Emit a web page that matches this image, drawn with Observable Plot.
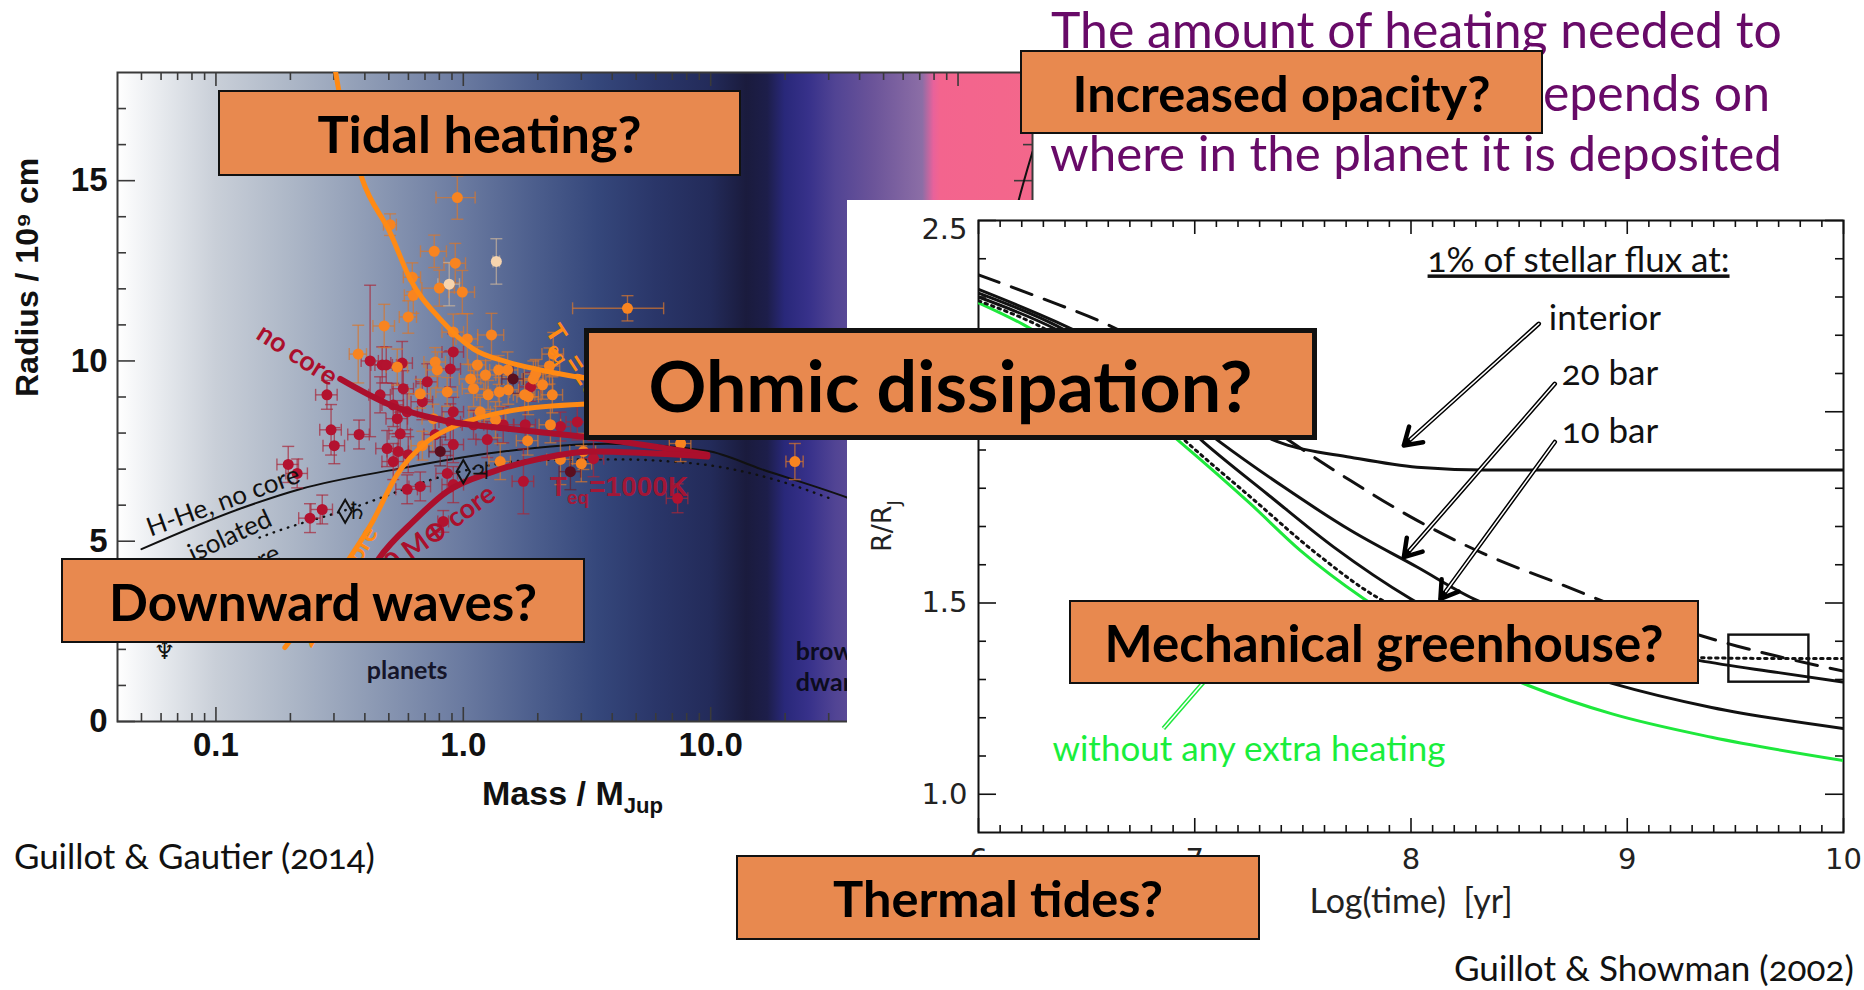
<!DOCTYPE html>
<html>
<head>
<meta charset="utf-8">
<title>Radius inflation of hot Jupiters</title>
<script src="https://cdn.jsdelivr.net/npm/d3@7"></script>
<script src="https://cdn.jsdelivr.net/npm/@observablehq/plot@0.6"></script>
<style>
  html, body { margin: 0; padding: 0; background: #fff; }
  #slide { position: relative; width: 1864px; height: 990px; overflow: hidden; background: #fff; }
  .panel { position: absolute; }
  .panel svg { display: block; max-width: none; }
  .box { position: absolute; box-sizing: border-box; background: #e8894f; border: 2.5px solid #111;
         display: flex; align-items: center; justify-content: center; }
  .box span { font-family: Lato, "Open Sans", sans-serif; font-weight: 700; color: #000; white-space: nowrap; }
</style>
</head>
<body>
<div id="slide">
  <div id="massRadius" class="panel" style="left:0;top:0;width:1060px;height:830px"></div>
  <div id="evolution" class="panel" style="left:847px;top:200px;width:1017px;height:790px"></div>
</div>
<script>
const SVGNS = "http://www.w3.org/2000/svg";

// ---------------------------------------------------------------
// Mass–radius diagram of transiting giant planets
// ---------------------------------------------------------------
const massDomain = [0.04, 200];
const radiusDomain = [0, 18];
const massMajorTicks = [0.1, 1, 10, 100];
const massTickLabels = ["0.1", "1.0", "10.0", "100.0"];
const massMinorTicks = [0.05, 0.06, 0.07, 0.08, 0.09, 0.2, 0.3, 0.4, 0.5, 0.6, 0.7, 0.8, 0.9,
  2, 3, 4, 5, 6, 7, 8, 9, 20, 30, 40, 50, 60, 70, 80, 90];
const radiusMajorTicks = [0, 5, 10, 15];
const radiusMinorTicks = [1, 2, 3, 4, 6, 7, 8, 9, 11, 12, 13, 14, 16, 17];

// background shading along the mass axis (planets -> brown dwarfs -> stars)
const shadeMass = [0.04, 0.06, 0.1, 0.2, 0.4, 1, 2, 3.5, 6, 10, 14, 17, 20, 25, 32, 45, 72, 80, 85, 200];
const shadeColor = ["#ffffff", "#e7eaee", "#c9cfd8", "#adb7c7", "#909db6", "#6a7aa0", "#4b5d8c",
  "#35477b", "#2a3669", "#232b5a", "#1a1b3d", "#1d1e4a", "#29287a", "#37318a", "#514494",
  "#6a5399", "#8c6ea6", "#e8629b", "#f3648e", "#f3678b"];

// planets: [mass (M_Jup), radius (1e9 cm), relative mass error, radius error]
const hotPlanets = [
  [0.946, 14.53, 0.18, 0.6], [0.506, 13.78, 0.06, 0.3], [0.763, 13.04, 0.12, 0.45],
  [0.928, 12.71, 0.10, 0.55], [0.991, 11.91, 0.12, 0.6], [0.80, 12.02, 0.15, 0.5],
  [0.622, 12.32, 0.08, 0.4], [0.628, 11.82, 0.08, 0.5], [0.599, 11.22, 0.08, 0.45],
  [0.479, 10.97, 0.10, 0.6], [4.61, 11.46, 0.40, 0.35], [0.911, 10.80, 0.10, 0.5],
  [1.038, 10.61, 0.10, 0.7], [1.30, 10.72, 0.12, 0.6], [0.376, 10.19, 0.08, 0.8],
  [2.31, 10.19, 0.10, 0.6], [2.23, 9.86, 0.10, 0.5], [0.77, 9.97, 0.10, 0.4],
  [1.14, 9.89, 0.08, 0.5], [1.39, 9.75, 0.08, 0.4], [1.51, 9.75, 0.10, 0.5],
  [1.92, 9.50, 0.10, 0.5], [2.09, 9.34, 0.10, 0.4], [2.29, 9.06, 0.10, 0.5],
  [0.541, 9.83, 0.10, 0.5], [0.785, 9.75, 0.10, 0.5], [0.861, 9.14, 0.10, 0.4],
  [1.10, 9.23, 0.10, 0.5], [1.26, 9.06, 0.10, 0.4], [1.52, 9.20, 0.10, 0.4],
  [1.83, 9.01, 0.10, 0.5], [0.67, 9.09, 0.10, 0.4], [1.17, 8.59, 0.10, 0.4],
  [1.35, 8.37, 0.10, 0.5], [2.25, 8.23, 0.10, 0.5], [1.41, 7.21, 0.10, 0.5],
  [2.47, 7.27, 0.12, 0.7], [3.06, 7.49, 0.12, 0.5], [7.56, 7.71, 0.10, 0.5],
  [1.23, 9.61, 0.10, 0.4], [1.07, 9.50, 0.10, 0.4], [21.9, 7.21, 0.08, 0.5],
  [1.96, 9.64, 0.10, 0.4], [1.77, 9.06, 0.10, 0.4], [1.40, 9.14, 0.10, 0.4],
  [1.82, 7.79, 0.10, 0.4], [0.757, 8.40, 0.10, 0.4], [0.683, 7.65, 0.10, 0.4],
  [3.0, 7.15, 0.10, 0.5]
];
const warmPlanets = [
  [0.281, 9.06, 0.10, 0.4], [0.292, 8.09, 0.10, 0.7], [0.301, 7.65, 0.10, 0.5],
  [0.379, 7.96, 0.10, 0.4], [0.42, 10.0, 0.08, 2.1], [0.47, 9.89, 0.10, 0.5],
  [0.488, 9.89, 0.10, 0.5], [0.566, 9.94, 0.10, 0.6], [0.461, 9.06, 0.10, 0.5],
  [0.521, 8.78, 0.10, 0.6], [0.572, 9.23, 0.10, 0.5], [0.541, 8.40, 0.10, 0.5],
  [0.593, 8.59, 0.10, 0.5], [0.556, 7.98, 0.10, 0.6], [0.492, 7.57, 0.10, 0.5],
  [0.546, 7.49, 0.10, 0.5], [0.521, 7.21, 0.10, 0.5], [0.599, 7.40, 0.10, 0.5],
  [0.593, 6.44, 0.10, 0.4], [0.67, 6.52, 0.10, 0.4], [0.715, 9.42, 0.10, 0.5],
  [0.683, 8.87, 0.10, 0.5], [0.77, 7.96, 0.10, 0.5], [0.886, 8.31, 0.10, 0.5],
  [0.911, 10.25, 0.10, 0.5], [0.886, 9.78, 0.10, 0.5], [0.911, 8.59, 0.10, 0.4],
  [0.911, 7.68, 0.10, 0.5], [0.861, 6.88, 0.10, 0.5], [0.911, 6.57, 0.10, 0.5],
  [1.10, 8.23, 0.10, 0.4], [1.25, 7.82, 0.10, 0.5], [1.45, 8.23, 0.10, 0.5],
  [1.78, 8.23, 0.10, 0.5], [1.75, 6.66, 0.10, 0.9], [1.87, 9.28, 0.10, 0.4],
  [3.36, 7.29, 0.10, 0.5], [7.35, 6.19, 0.10, 0.4], [2.47, 8.18, 0.10, 0.4],
  [2.89, 8.31, 0.10, 0.5], [0.196, 7.13, 0.10, 0.5], [0.213, 6.88, 0.10, 0.4],
  [0.240, 5.64, 0.10, 0.4], [0.269, 5.88, 0.10, 0.4], [0.83, 5.55, 0.05, 0.3]
];
const coolPlanets = [[1.59, 9.50, 0.10, 0.4], [0.807, 7.49, 0.10, 0.4], [2.71, 6.93, 0.10, 0.5]];
const palePlanets = [[1.36, 12.76, 0.03, 0.63], [0.877, 12.13, 0.10, 0.6]];

// model curves
const hotNoCoreMass = [0.30, 0.309, 0.39, 0.506, 0.61, 0.807, 1.10, 1.51, 2.05, 3.03, 5, 8];
const hotNoCoreRadius = [18.3, 17.76, 15.05, 13.56, 12.27, 11.16, 10.33, 9.97, 9.75, 9.53, 9.3, 9.1];
const hotCoreMass = [0.19, 0.23, 0.30, 0.36, 0.43, 0.54, 0.71, 0.97, 1.5, 3.0, 5, 8];
const hotCoreRadius = [2.05, 2.8, 3.9, 4.7, 5.55, 6.85, 7.75, 8.25, 8.6, 8.8, 8.85, 8.85];
const warmNoCoreMass = [0.318, 0.506, 0.807, 1.51, 3.06, 9.7];
const warmNoCoreRadius = [9.5, 8.78, 8.37, 8.12, 7.90, 7.40];
const warmCoreMass = [0.36, 0.40, 0.457, 0.628, 0.861, 1.32, 2.05, 3.27, 9.7];
const warmCoreRadius = [3.3, 3.9, 4.53, 5.55, 6.38, 6.93, 7.29, 7.49, 7.35];
const hheMass = [0.05, 0.125, 0.22, 0.54, 1.5, 3.8, 9.7, 16, 36, 60, 75, 95, 120, 150, 175, 200];
const hheRadius = [4.78, 5.9, 6.45, 7.0, 7.5, 7.7, 7.5, 7.0, 6.2, 5.6, 5.5, 6.6, 9.3, 12.4, 14.4, 15.8];
const isolatedMass = [0.15, 0.177, 0.33, 1.0, 1.92, 4.32, 6.9, 10, 19.2, 30];
const isolatedRadius = [5.1, 5.28, 5.85, 6.95, 7.25, 7.27, 7.21, 7.1, 6.66, 6.2];

// solar-system giants
const giantMass = [0.333, 1.0];
const giantRadius = [5.83, 6.93];
const giantSymbolMass = [0.372, 1.17, 0.062];
const giantSymbolRadius = [5.83, 6.93, 1.96];
const giantSymbols = ["♄", "♃", "♆"];

// ---------------------------------------------------------------
// Radius evolution of HD 209458b with extra heating
// ---------------------------------------------------------------
const timeDomain = [6, 10];
const ratioDomain = [0.9, 2.5];
const timeMajorTicks = [6, 7, 8, 9, 10];
const ratioMajorTicks = [1.0, 1.5, 2.0];
const ratioTopTick = [2.5];

const interiorTime = [6, 6.36, 6.7, 7.0, 7.2, 7.412, 7.72, 8.028, 8.336, 9.0, 10];
const interiorRadius = [2.32, 2.235, 2.14, 2.04, 1.97, 1.916, 1.881, 1.855, 1.848, 1.848, 1.848];
const bar20Time = [6, 6.36, 6.7, 7.119, 7.412, 7.72, 8.028, 8.29, 8.6, 9.0, 9.33, 9.7, 10];
const bar20Radius = [2.31, 2.225, 2.11, 1.92, 1.803, 1.69, 1.594, 1.511, 1.45, 1.39, 1.35, 1.318, 1.293];
const bar10Time = [6, 6.36, 6.7, 7.042, 7.335, 7.643, 7.998, 8.3, 8.6, 8.93, 9.39, 10];
const bar10Radius = [2.30, 2.215, 2.10, 1.92, 1.785, 1.646, 1.511, 1.42, 1.35, 1.29, 1.227, 1.172];
const dashedTime = [6, 6.3, 6.6, 7.0, 7.2, 7.457, 7.72, 8.028, 8.336, 8.706, 9.0, 9.35, 9.51, 9.7, 10];
const dashedRadius = [2.358, 2.295, 2.227, 2.10, 2.02, 1.917, 1.82, 1.716, 1.629, 1.546, 1.48, 1.413, 1.387, 1.36, 1.322];
const dottedTime = [6, 6.36, 6.7, 6.97, 7.258, 7.566, 7.843, 8.1, 8.4, 8.7, 9.0, 9.33, 9.7, 10];
const dottedRadius = [2.29, 2.20, 2.06, 1.917, 1.777, 1.628, 1.515, 1.45, 1.41, 1.385, 1.368, 1.357, 1.355, 1.355];
const noHeatingTime = [6, 6.21, 6.5, 6.934, 7.258, 7.489, 7.782, 8.1, 8.54, 8.93, 9.39, 10];
const noHeatingRadius = [2.285, 2.227, 2.12, 1.92, 1.759, 1.637, 1.511, 1.40, 1.285, 1.21, 1.149, 1.088];

// observed radius of HD 209458b (age range, radius range)
const observedTime = [9.47, 9.84];
const observedRadius = [1.293, 1.416];

// annotation arrows: label, tail (time, R), tip (time, R)
const arrowLabels = ["interior", "20 bar", "10 bar"];
const arrowLabelTime = [8.637, 8.697, 8.697];
const arrowLabelRadius = [2.243, 2.099, 1.947];
const arrowFromTime = [8.591, 8.665, 8.665];
const arrowFromRadius = [2.230, 2.073, 1.921];
const arrowToTime = [7.967, 7.967, 8.136];
const arrowToRadius = [1.912, 1.620, 1.511];
const pointerFrom = [6.855, 1.172];
const pointerTo = [7.21, 1.403];

// ---------------------------------------------------------------
// helpers
// ---------------------------------------------------------------
const zip = (xs, ys) => xs.map((x, i) => ({x, y: ys[i]}));

// text with optional subscripts, placed through the plot's scales
function richText(parts, at, o = {}) {
  return (index, scales, values, dims) => {
    const [px, py] = at(scales, dims);
    const fs = o.fontSize ?? 20;
    const t = document.createElementNS(SVGNS, "text");
    t.setAttribute("transform", `translate(${px},${py}) rotate(${o.rotate ?? 0})`);
    t.setAttribute("y", fs * 0.35);
    t.setAttribute("text-anchor", o.anchor ?? "start");
    t.setAttribute("font-family", o.fontFamily ?? "Liberation Sans");
    t.setAttribute("font-size", fs);
    t.setAttribute("font-weight", o.fontWeight ?? 400);
    t.setAttribute("fill", o.fill ?? "#000");
    if (o.opacity) t.setAttribute("fill-opacity", o.opacity);
    if (o.style) t.setAttribute("style", o.style);
    let shift = 0;
    for (const p of parts) {
      const isSub = typeof p === "object" && p.sub === true;
      const s = document.createElementNS(SVGNS, "tspan");
      s.textContent = typeof p === "string" ? p : p.text;
      if (isSub) {
        const d = fs * 0.3;
        s.setAttribute("font-size", fs * 0.68);
        s.setAttribute("dy", d - shift);
        shift = d;
      } else if (shift) {
        s.setAttribute("dy", -shift);
        shift = 0;
      }
      t.appendChild(s);
    }
    return t;
  };
}
const atData = (x, y) => (s) => [s.x(x), s.y(y)];

// horizontal and vertical caps for error bars
const capH = {draw(c, s) { const w = Math.sqrt(s / Math.PI); c.moveTo(-w, 0); c.lineTo(w, 0); }};
const capV = {draw(c, s) { const w = Math.sqrt(s / Math.PI); c.moveTo(0, -w); c.lineTo(0, w); }};

function errorMarks(rows, color) {
  const st = {stroke: color, strokeWidth: 1.4, strokeOpacity: 0.7, clip: true};
  return [
    Plot.link(rows, {x1: d => d[0], x2: d => d[0], y1: d => d[1] - d[3], y2: d => d[1] + d[3], ...st}),
    Plot.link(rows, {x1: d => d[0] * (1 - d[2]), x2: d => d[0] * (1 + d[2]), y1: d => d[1], y2: d => d[1], ...st}),
    Plot.dot(rows, {x: d => d[0], y: d => d[1] + d[3], symbol: capH, r: 6, fill: "none", ...st}),
    Plot.dot(rows, {x: d => d[0], y: d => d[1] - d[3], symbol: capH, r: 6, fill: "none", ...st}),
    Plot.dot(rows, {x: d => d[0] * (1 - d[2]), y: d => d[1], symbol: capV, r: 6, fill: "none", ...st}),
    Plot.dot(rows, {x: d => d[0] * (1 + d[2]), y: d => d[1], symbol: capV, r: 6, fill: "none", ...st})
  ];
}

// background gradient drawn in the mass scale
const shadeMark = (index, scales) => {
  const x0 = scales.x(massDomain[0]), x1 = scales.x(massDomain[1]);
  const y0 = scales.y(radiusDomain[1]), y1 = scales.y(radiusDomain[0]);
  const g = document.createElementNS(SVGNS, "g");
  const defs = document.createElementNS(SVGNS, "defs");
  const grad = document.createElementNS(SVGNS, "linearGradient");
  grad.setAttribute("id", "massShade");
  grad.setAttribute("gradientUnits", "userSpaceOnUse");
  grad.setAttribute("x1", x0); grad.setAttribute("x2", x1);
  grad.setAttribute("y1", 0); grad.setAttribute("y2", 0);
  shadeMass.forEach((m, i) => {
    const st = document.createElementNS(SVGNS, "stop");
    st.setAttribute("offset", (scales.x(m) - x0) / (x1 - x0));
    st.setAttribute("stop-color", shadeColor[i]);
    grad.appendChild(st);
  });
  defs.appendChild(grad);
  g.appendChild(defs);
  const rect = document.createElementNS(SVGNS, "rect");
  rect.setAttribute("x", x0); rect.setAttribute("y", y0);
  rect.setAttribute("width", x1 - x0); rect.setAttribute("height", y1 - y0);
  rect.setAttribute("fill", "url(#massShade)");
  g.appendChild(rect);
  return g;
};

// ---------------------------------------------------------------
// left panel
// ---------------------------------------------------------------
const LW = 1060, LH = 830, LM = {l: 117, r: 28, t: 72, b: 109};
const LpW = LW - LM.l - LM.r, LpH = LH - LM.t - LM.b;
const lTick = {stroke: "#3a3a3a", strokeWidth: 1.6};
const boldHelv = {fontFamily: "Liberation Sans", fontWeight: 700};

const massRadius = Plot.plot({
  width: LW, height: LH,
  marginLeft: LM.l, marginRight: LM.r, marginTop: LM.t, marginBottom: LM.b,
  x: {type: "log", domain: massDomain, axis: null},
  y: {domain: radiusDomain, axis: null},
  style: {background: "transparent", overflow: "visible"},
  marks: [
    shadeMark,
    Plot.frame({stroke: "#3a3a3a", strokeWidth: 2}),
    Plot.tickX(massMajorTicks, {x: d => d, insetTop: LpH - 14, ...lTick}),
    Plot.tickX(massMajorTicks, {x: d => d, insetBottom: LpH - 14, ...lTick}),
    Plot.tickX(massMinorTicks, {x: d => d, insetTop: LpH - 8, ...lTick}),
    Plot.tickX(massMinorTicks, {x: d => d, insetBottom: LpH - 8, ...lTick}),
    Plot.tickY(radiusMajorTicks, {y: d => d, insetRight: LpW - 18, ...lTick}),
    Plot.tickY(radiusMajorTicks, {y: d => d, insetLeft: LpW - 18, ...lTick}),
    Plot.tickY(radiusMinorTicks, {y: d => d, insetRight: LpW - 9, ...lTick}),
    Plot.tickY(radiusMinorTicks, {y: d => d, insetLeft: LpW - 9, ...lTick}),
    Plot.text(massMajorTicks, {x: d => d, text: (d, i) => massTickLabels[i], frameAnchor: "bottom",
      dy: 34, fontSize: 33, fill: "#111", ...boldHelv}),
    Plot.text(radiusMajorTicks, {y: d => d, text: d => String(d), frameAnchor: "left", textAnchor: "end",
      dx: -10, fontSize: 33, fill: "#111", ...boldHelv}),
    Plot.text(["Radius / 10⁹ cm"], {frameAnchor: "left", dx: -90, rotate: -90, fontSize: 32,
      fill: "#111", ...boldHelv}),

    // reference tracks
    Plot.line(zip(hheMass, hheRadius), {x: "x", y: "y", stroke: "#111", strokeWidth: 2,
      curve: "monotone-x", clip: true}),
    Plot.line(zip(isolatedMass, isolatedRadius), {x: "x", y: "y", stroke: "#111", strokeWidth: 2.4,
      strokeDasharray: "0.5,7", strokeLinecap: "round", curve: "monotone-x", clip: true}),

    // measured planets
    ...errorMarks(warmPlanets, "#a8283a"),
    ...errorMarks(hotPlanets, "#d8762c"),
    ...errorMarks(coolPlanets, "#6a2030"),
    ...errorMarks(palePlanets, "#c9b49c"),
    Plot.dot(warmPlanets, {x: d => d[0], y: d => d[1], r: 5.5, fill: "#b3122f"}),
    Plot.dot(hotPlanets, {x: d => d[0], y: d => d[1], r: 5.5, fill: "#f88420"}),
    Plot.dot(coolPlanets, {x: d => d[0], y: d => d[1], r: 5.5, fill: "#5a0f1f"}),
    Plot.dot(palePlanets, {x: d => d[0], y: d => d[1], r: 5.5, fill: "#f6d4ae"}),

    // interior models
    Plot.line(zip(hotNoCoreMass, hotNoCoreRadius), {x: "x", y: "y", stroke: "#ff8a14", strokeWidth: 5,
      curve: "monotone-x", clip: true}),
    Plot.line(zip(hotCoreMass, hotCoreRadius), {x: "x", y: "y", stroke: "#ff8a14", strokeWidth: 5,
      curve: "monotone-x", clip: true}),
    Plot.line(zip(warmNoCoreMass, warmNoCoreRadius), {x: "x", y: "y", stroke: "#ab0f2c", strokeWidth: 6,
      curve: "monotone-x", clip: true}),
    Plot.line(zip(warmCoreMass, warmCoreRadius), {x: "x", y: "y", stroke: "#ab0f2c", strokeWidth: 6,
      curve: "monotone-x", clip: true}),

    // solar-system giants
    Plot.dot(giantMass.map((m, i) => [m, giantRadius[i]]), {x: d => d[0], y: d => d[1], symbol: "diamond",
      r: 7, fill: "none", stroke: "#111", strokeWidth: 2}),
    Plot.text(giantSymbols, {x: (d, i) => giantSymbolMass[i], y: (d, i) => giantSymbolRadius[i], text: d => d,
      fontFamily: "DejaVu Sans", fontSize: 24, fill: "#111"}),

    // curve labels
    Plot.text(["no core"], {x: 0.213, y: 10.17, rotate: 33, fontFamily: "Lato", fontWeight: 700,
      fontSize: 27, fill: "#ab0f2c"}),
    Plot.text(["H-He, no core"], {x: 0.107, y: 6.1, rotate: -20, fontFamily: "Lato",
      fontSize: 26, fill: "#111"}),
    Plot.text(["isolated"], {x: 0.114, y: 5.14, rotate: -25, fontFamily: "Lato",
      fontSize: 26, fill: "#111"}),
    Plot.text(["no core"], {x: 0.125, y: 4.2, rotate: -25, fontFamily: "Lato",
      fontSize: 26, fill: "#111"}),
    richText(["20 M⊕ core"], atData(1.31, 6.4), {anchor: "end", rotate: -36, fontFamily: "Lato",
      fontWeight: 700, fontSize: 27, fill: "#ab0f2c"}),
    richText(["20 M⊕ core"], atData(0.425, 5.35), {anchor: "end", rotate: -60, fontFamily: "Lato",
      fontWeight: 700, fontSize: 25, fill: "#ff8a14"}),
    richText(["T", {text: "eq", sub: true}, "=1000K"], atData(2.25, 6.52), {fontSize: 28, fontWeight: 700,
      fill: "#b3122f", opacity: 0.9}),
    richText(["T", {text: "eq", sub: true}, "=2000K"], atData(2.3, 10.95), {rotate: 57, fontSize: 26,
      fontWeight: 700, fill: "#ff8a14"}),
    Plot.text(["planets"], {x: 0.593, y: 1.41, fontFamily: "Lato", fontWeight: 700, fontSize: 25,
      fill: "#16162a"}),
    Plot.text(["brown\ndwarfs"], {x: 22.1, y: 1.55, textAnchor: "start", lineHeight: 1.25,
      fontFamily: "Lato", fontWeight: 700, fontSize: 25, fill: "#0c0c1e"})
  ]
});
document.getElementById("massRadius").appendChild(massRadius);

// ---------------------------------------------------------------
// right panel
// ---------------------------------------------------------------
const RW = 1017, RH = 790, RM = {l: 131, r: 21, t: 20, b: 158};
const RpW = RW - RM.l - RM.r, RpH = RH - RM.t - RM.b;
const rTick = {stroke: "#111", strokeWidth: 1.6};
const timeMinorTicks = d3.range(61, 100).filter(i => i % 10).map(i => i / 10);
const ratioMinorTicks = d3.range(10, 25).filter(i => i % 5).map(i => i / 10);
const idl = {fontFamily: "DejaVu Sans", fontSize: 29, fill: "#222"};
const slideFont = {fontFamily: "Lato", fontSize: 35, fill: "#111"};

const evolution = Plot.plot({
  width: RW, height: RH,
  marginLeft: RM.l, marginRight: RM.r, marginTop: RM.t, marginBottom: RM.b,
  x: {domain: timeDomain, axis: null},
  y: {domain: ratioDomain, axis: null},
  style: {background: "white", overflow: "visible"},
  marks: [
    Plot.frame({stroke: "#111", strokeWidth: 2}),
    Plot.tickX(timeMajorTicks, {x: d => d, insetTop: RpH - 14, ...rTick}),
    Plot.tickX(timeMajorTicks, {x: d => d, insetBottom: RpH - 14, ...rTick}),
    Plot.tickX(timeMinorTicks, {x: d => d, insetTop: RpH - 7, ...rTick}),
    Plot.tickX(timeMinorTicks, {x: d => d, insetBottom: RpH - 7, ...rTick}),
    Plot.tickY(ratioMajorTicks.concat(ratioTopTick), {y: d => d, insetRight: RpW - 18, ...rTick}),
    Plot.tickY(ratioMajorTicks.concat(ratioTopTick), {y: d => d, insetLeft: RpW - 18, ...rTick}),
    Plot.tickY(ratioMinorTicks, {y: d => d, insetRight: RpW - 8, ...rTick}),
    Plot.tickY(ratioMinorTicks, {y: d => d, insetLeft: RpW - 8, ...rTick}),
    Plot.text(timeMajorTicks, {x: d => d, text: d => String(d), frameAnchor: "bottom", dy: 36, ...idl}),
    Plot.text(ratioMajorTicks, {y: d => d, text: d => d.toFixed(1), frameAnchor: "left", textAnchor: "end",
      dx: -11, ...idl}),
    Plot.text(ratioTopTick, {y: d => d, text: d => d.toFixed(1), frameAnchor: "left", textAnchor: "end",
      dx: -11, dy: 9, ...idl}),
    richText(["R/R", {text: "J", sub: true}], (s, d) => [d.marginLeft - 96, d.marginTop + (d.height - d.marginTop - d.marginBottom) / 2],
      {anchor: "middle", rotate: -90, fontFamily: "DejaVu Sans", fontSize: 27, fill: "#222"}),
    Plot.text(["Log(time)  [yr]"], {frameAnchor: "bottom", dy: 80, ...slideFont, fontSize: 34, fill: "#222"}),

    // evolution tracks
    Plot.line(zip(noHeatingTime, noHeatingRadius), {x: "x", y: "y", stroke: "#1ee83c", strokeWidth: 3,
      curve: "monotone-x", clip: true}),
    Plot.line(zip(dottedTime, dottedRadius), {x: "x", y: "y", stroke: "#111", strokeWidth: 3,
      strokeDasharray: "2.5,4.5", curve: "monotone-x", clip: true}),
    Plot.line(zip(bar10Time, bar10Radius), {x: "x", y: "y", stroke: "#111", strokeWidth: 3,
      curve: "monotone-x", clip: true}),
    Plot.line(zip(bar20Time, bar20Radius), {x: "x", y: "y", stroke: "#111", strokeWidth: 3,
      curve: "monotone-x", clip: true}),
    Plot.line(zip(interiorTime, interiorRadius), {x: "x", y: "y", stroke: "#111", strokeWidth: 3,
      curve: "monotone-x", clip: true}),
    Plot.line(zip(dashedTime, dashedRadius), {x: "x", y: "y", stroke: "#111", strokeWidth: 3,
      strokeDasharray: "22,13", curve: "monotone-x", clip: true}),

    // observed planet
    Plot.rect([{t1: observedTime[0], t2: observedTime[1], r1: observedRadius[0], r2: observedRadius[1]}],
      {x1: "t1", x2: "t2", y1: "r1", y2: "r2", fill: "none", stroke: "#111", strokeWidth: 2.4}),

    // annotations
    Plot.arrow(arrowLabels, {x1: (d, i) => arrowFromTime[i], y1: (d, i) => arrowFromRadius[i],
      x2: (d, i) => arrowToTime[i], y2: (d, i) => arrowToRadius[i], stroke: "#000", strokeWidth: 4.5,
      headLength: 6.5, headAngle: 65}),
    Plot.arrow(arrowLabels, {x1: (d, i) => arrowFromTime[i], y1: (d, i) => arrowFromRadius[i],
      x2: (d, i) => arrowToTime[i], y2: (d, i) => arrowToRadius[i], stroke: "#fff", strokeWidth: 1.5,
      headLength: 0, insetEnd: 9}),
    Plot.text(arrowLabels, {x: (d, i) => arrowLabelTime[i], y: (d, i) => arrowLabelRadius[i], text: d => d,
      textAnchor: "start", ...slideFont, fontVariant: "oldstyle-nums"}),
    richText(["1% of stellar flux at:"], atData(8.079, 2.395), {fontFamily: "Lato", fontSize: 35, fill: "#111",
      style: "text-decoration: underline; font-variant-numeric: oldstyle-nums"}),
    Plot.link([pointerFrom], {x1: d => d[0], y1: d => d[1], x2: () => pointerTo[0], y2: () => pointerTo[1],
      stroke: "#1ee83c", strokeWidth: 4.5}),
    Plot.link([pointerFrom], {x1: d => d[0], y1: d => d[1], x2: () => pointerTo[0], y2: () => pointerTo[1],
      stroke: "#fff", strokeWidth: 1.5}),
    Plot.text(["without any extra heating"], {x: 6.342, y: 1.117, textAnchor: "start", fontFamily: "Lato",
      fontSize: 35, fill: "#19ee3c"})
  ]
});
document.getElementById("evolution").appendChild(evolution);

// ---------------------------------------------------------------
// slide text and call-out boxes
// ---------------------------------------------------------------
const slide = document.getElementById("slide");

function addText(html, {x, baseline, anchor = "start", size, width, font = "Lato", weight = 400,
  color = "#000", extra = ""}) {
  const d = document.createElement("div");
  d.style.cssText = `position:absolute;left:0;top:0;white-space:nowrap;font-family:${font};` +
    `font-weight:${weight};font-size:${size}px;line-height:1;color:${color};${extra}`;
  d.innerHTML = html + '<span class="bl" style="display:inline-block;width:0;height:0"></span>';
  slide.appendChild(d);
  if (width) {
    const w0 = d.getBoundingClientRect().width;
    size = size * width / w0;
    d.style.fontSize = size + "px";
  }
  const r = d.getBoundingClientRect();
  const bl = d.querySelector(".bl").getBoundingClientRect().top - r.top;
  d.style.left = (anchor === "start" ? x : anchor === "end" ? x - r.width : x - r.width / 2) + "px";
  d.style.top = (baseline - bl) + "px";
  return size;
}

function addBox(label, {left, top, width, height, textWidth, border = 2.5}) {
  const b = document.createElement("div");
  b.className = "box";
  b.style.cssText = `left:${left}px;top:${top}px;width:${width}px;height:${height}px;border-width:${border}px`;
  const s = document.createElement("span");
  s.textContent = label;
  s.style.fontSize = "40px";
  b.appendChild(s);
  slide.appendChild(b);
  const w = s.getBoundingClientRect().width;
  s.style.fontSize = (40 * textWidth / w) + "px";
}

// axis title with subscript under the mass axis
addText('Mass / M<span style="font-size:65%;position:relative;top:0.35em">Jup</span>',
  {x: 482, baseline: 805, size: 34, font: "Liberation Sans", weight: 700, color: "#111"});

// statement at the top right
const purple = "#680a68";
const ps = addText("The amount of heating needed to", {x: 1051, baseline: 48, size: 42, width: 731, color: purple});
addText("depends on", {x: 1770, baseline: 111, anchor: "end", size: ps, color: purple});
addText("where in the planet it is deposited", {x: 1050, baseline: 171, size: 42, width: 732, color: purple});

// references
addText("Guillot &amp; Gautier (2014)", {x: 14, baseline: 869, size: 30, width: 361, color: "#111",
  extra: "font-variant-numeric: oldstyle-nums"});
addText("Guillot &amp; Showman (2002)", {x: 1454, baseline: 981, size: 30, width: 400, color: "#111",
  extra: "font-variant-numeric: oldstyle-nums"});

// candidate heating mechanisms
addBox("Tidal heating?", {left: 218, top: 90, width: 523, height: 86, textWidth: 324});
addBox("Increased opacity?", {left: 1020, top: 50, width: 523, height: 84, textWidth: 418});
addBox("Ohmic dissipation?", {left: 584, top: 328, width: 733, height: 112, textWidth: 604, border: 5});
addBox("Downward waves?", {left: 61, top: 558, width: 524, height: 85, textWidth: 428});
addBox("Mechanical greenhouse?", {left: 1069, top: 600, width: 630, height: 84, textWidth: 559});
addBox("Thermal tides?", {left: 736, top: 855, width: 524, height: 85, textWidth: 330});
</script>
</body>
</html>
